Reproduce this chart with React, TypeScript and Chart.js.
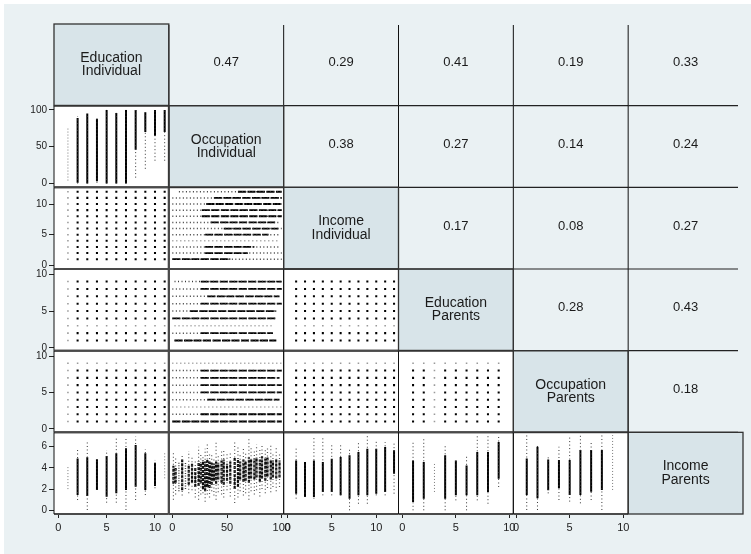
import React, { useEffect, useRef } from "react";
import { Chart, registerables } from "chart.js";

Chart.register(...registerables);

const W = 751;
const H = 554;
const FONT = '"Liberation Sans", Arial, Helvetica, sans-serif';
const BG = "#eaf1f3";
const DIAG_FILL = "#d8e4e9";

// ---- Variables (diagonal labels) ----
const VARIABLE_LABELS: string[][] = [
  ["Education", "Individual"],
  ["Occupation", "Individual"],
  ["Income", "Individual"],
  ["Education", "Parents"],
  ["Occupation", "Parents"],
  ["Income", "Parents"],
];

// ---- Correlations (upper triangle, row by row) ----
const CORR_ROW_1 = [0.47, 0.29, 0.41, 0.19, 0.33];
const CORR_ROW_2 = [0.38, 0.27, 0.14, 0.24];
const CORR_ROW_3 = [0.17, 0.08, 0.27];
const CORR_ROW_4 = [0.28, 0.43];
const CORR_ROW_5 = [0.18];

// ---- Axis ranges ----
const X_MIN = [-0.44, -3.2, -0.4, -0.36, -0.25, -0.35];
const X_MAX = [11.43, 101.8, 12.5, 10.37, 10.45, 7.36];
const Y_MIN = [-0.44, -5.2, -0.6, -0.38, -0.49, -0.35];
const Y_MAX = [11.43, 105.8, 12.72, 10.71, 10.74, 7.36];

// ---- Tick labels ----
const TICKS_EDU_IND = [0, 5, 10];
const TICKS_OCC_IND = [0, 50, 100];
const TICKS_INC_IND = [0, 5, 10];
const TICKS_EDU_PAR = [0, 5, 10];
const TICKS_OCC_PAR = [0, 5, 10];
const TICKS_INC_PAR = [0, 2, 4, 6];
const AXIS_TICKS = [TICKS_EDU_IND, TICKS_OCC_IND, TICKS_INC_IND, TICKS_EDU_PAR, TICKS_OCC_PAR, TICKS_INC_PAR];

// ---- Discrete levels present ----
const EDU_IND_LEVELS = [1, 2, 3, 4, 5, 6, 7, 8, 9, 10, 11];
const INC_IND_LEVELS = [1, 2, 3, 4, 5, 6, 7, 8, 9, 10, 11, 12];
const EDU_PAR_LEVELS = [1, 2, 3, 4, 5, 6, 7, 8, 9];
const OCC_PAR_LEVELS = [1, 2, 3, 4, 5, 6, 7, 8, 9];

// ---- Strips: [position, sparseLow, sparseHigh, denseLow, denseHigh] ----
type Strip = [number, number, number, number | null, number | null];

// Occupation Individual (y) at each Education Individual level (x)
const OCC_IND_BY_EDU_IND: Strip[] = [
  [1, 4, 77, null, null],
  [2, 0, 91, 1, 89],
  [3, 0, 95, 0, 95],
  [4, 1, 90, 3, 88],
  [5, 0, 100, 0, 100],
  [6, 0, 96, 0, 96],
  [7, 0, 100, 0, 100],
  [8, 8, 100, 46, 100],
  [9, 20, 97, 70, 97],
  [10, 31, 100, 65, 100],
  [11, 31, 100, 70, 100],
];

// Occupation Individual (x) spread at each Income Individual level (y)
const INC_IND_BY_OCC_IND: Strip[] = [
  [12, 6, 100, 60, 100],
  [11, 0, 100, 38, 100],
  [10, 0, 100, 31, 100],
  [9, 0, 100, 27, 100],
  [8, 0, 100, 27, 100],
  [7, 0, 97, 35, 94],
  [6, 0, 100, 47, 97],
  [5, 0, 97, 30, 88],
  [4, 0, 97, null, null],
  [3, 0, 97, 30, 75],
  [2, 0, 100, 30, 69],
  [1, 0, 100, 0, 53],
];

// Occupation Individual (x) spread at each Education Parents level (y)
const EDU_PAR_BY_OCC_IND: Strip[] = [
  [9, 2, 100, 26, 100],
  [8, 0, 100, 26, 100],
  [7, 0, 98, 32, 98],
  [6, 0, 100, 26, 100],
  [5, 0, 95, 16, 95],
  [4, 0, 95, 0, 95],
  [3, 2, 92, null, null],
  [2, 0, 92, 26, 92],
  [1, 2, 95, 2, 95],
];

// Occupation Individual (x) spread at each Occupation Parents level (y)
const OCC_PAR_BY_OCC_IND: Strip[] = [
  [9, 0, 100, null, null],
  [8, 0, 100, 26, 100],
  [7, 0, 98, 26, 98],
  [6, 0, 100, 26, 100],
  [5, 0, 100, 26, 100],
  [4, 0, 98, 32, 98],
  [3, 0, 100, null, null],
  [2, 0, 100, 26, 100],
  [1, 0, 100, 0, 100],
];

// Income Parents (y) at each Education Individual level (x)
const INC_PAR_BY_EDU_IND: Strip[] = [
  [1, 2.0, 4.1, null, null],
  [2, 0.97, 5.85, 1.44, 4.9],
  [3, 0.03, 6.47, 1.35, 5.0],
  [4, 1.92, 4.81, 1.92, 4.81],
  [5, 0.72, 5.69, 1.28, 5.12],
  [6, 0.72, 6.79, 1.6, 5.38],
  [7, 0.03, 6.73, 1.92, 5.85],
  [8, 0.97, 6.95, 2.23, 6.16],
  [9, 1.44, 5.78, 1.92, 5.38],
  [10, 2.08, 4.75, 2.3, 4.5],
  [11, 3.02, 5.38, null, null],
];

// Income Parents (y) at Occupation Individual codes (x)
const INC_PAR_BY_OCC_IND: Strip[] = [
  [1, 1.0, 5.5, 2.5, 4.2],
  [3, 1.5, 5.0, 2.6, 4.0],
  [6, 1.8, 4.6, null, null],
  [9, 1.4, 5.3, 1.9, 4.8],
  [12, 2.0, 4.5, null, null],
  [15, 1.6, 5.6, 2.4, 4.3],
  [18, 1.9, 5.0, 2.6, 4.4],
  [21, 1.2, 4.8, 2.2, 4.0],
  [24, 1.0, 6.0, 2.3, 4.6],
  [26, 1.5, 5.4, 2.6, 4.5],
  [28, 1.6, 5.2, 2.0, 4.7],
  [30, 0.8, 5.8, 1.8, 4.6],
  [32, 1.5, 6.2, 2.2, 4.8],
  [34, 1.2, 5.5, 2.1, 4.6],
  [36, 1.8, 5.4, 2.4, 4.5],
  [38, 1.4, 5.0, 2.8, 4.4],
  [40, 1.0, 6.4, 2.5, 4.6],
  [42, 1.7, 5.2, 2.9, 4.5],
  [45, 1.5, 5.6, 2.6, 4.7],
  [47, 1.2, 5.8, 2.4, 4.8],
  [50, 1.9, 5.3, 2.8, 4.4],
  [53, 1.3, 5.5, 2.5, 4.6],
  [57, 0.7, 6.6, 2.0, 5.0],
  [60, 1.2, 6.0, 2.2, 4.9],
  [62, 1.8, 5.4, 2.9, 4.6],
  [65, 1.4, 5.8, 2.7, 4.8],
  [67, 1.6, 5.5, 2.8, 4.6],
  [70, 1.0, 6.7, 2.6, 5.0],
  [72, 1.8, 6.0, 3.0, 4.8],
  [75, 1.5, 5.6, 2.9, 4.9],
  [77, 1.9, 6.2, 3.1, 5.0],
  [80, 1.3, 5.9, 2.7, 4.8],
  [82, 2.0, 6.3, 3.0, 5.1],
  [85, 1.6, 5.8, 2.8, 4.9],
  [87, 2.1, 6.0, 3.2, 5.0],
  [90, 1.7, 6.2, 2.9, 4.8],
  [92, 2.2, 5.5, 3.1, 4.7],
  [95, 1.8, 6.1, 3.0, 4.9],
  [98, 2.2, 5.5, 3.1, 4.7],
];

// Income Parents (y) at each Income Individual level (x)
const INC_PAR_BY_INC_IND: Strip[] = [
  [1, 1.1, 5.97, 1.57, 4.71],
  [2, 1.25, 4.56, 1.25, 4.56],
  [3, 1.1, 6.82, 1.25, 4.71],
  [4, 1.41, 6.9, 1.73, 4.56],
  [5, 1.41, 6.29, 1.73, 4.87],
  [6, 1.41, 6.3, 1.41, 5.03],
  [7, 0.0, 5.81, 1.1, 5.19],
  [8, 0.62, 6.44, 1.41, 5.5],
  [9, 0.62, 7.07, 1.41, 5.81],
  [10, 1.41, 6.6, 1.57, 5.81],
  [11, 1.41, 6.44, 1.73, 5.97],
  [12, 1.57, 6.29, 3.45, 5.66],
];

// Income Parents (y) at each Education Parents level (x)
const INC_PAR_BY_EDU_PAR: Strip[] = [
  [1, 0, 6.44, 0.78, 4.71],
  [2, 0, 6.91, 1.1, 4.56],
  [3, 1.73, 4.56, null, null],
  [4, 0, 6.13, 1.1, 5.19],
  [5, 0.94, 4.87, 1.41, 4.71],
  [6, 0, 5.19, 1.41, 4.24],
  [7, 0.94, 7.07, 1.41, 5.5],
  [8, 0.62, 7.07, 1.73, 5.5],
  [9, 2.2, 7.07, 2.98, 6.44],
];

// Income Parents (y) at each Occupation Parents level (x)
const INC_PAR_BY_OCC_PAR: Strip[] = [
  [1, 0.03, 7.1, 1.44, 4.9],
  [2, 0.03, 6.16, 1.13, 6.0],
  [3, 1.6, 5.13, 1.9, 4.8],
  [4, 0.97, 6.0, 2.08, 4.75],
  [5, 0.82, 6.95, 1.44, 4.75],
  [6, 0.66, 7.1, 1.44, 5.69],
  [7, 0.97, 6.47, 1.76, 5.69],
  [8, 0.03, 7.1, 1.92, 5.69],
  [9, 1.92, 7.1, null, null],
];

type StripPanel = { row: number; col: number; strips: Strip[]; horizontal: boolean; cloud?: boolean };
const STRIP_PANELS: StripPanel[] = [
  { row: 2, col: 1, strips: OCC_IND_BY_EDU_IND, horizontal: false },
  { row: 3, col: 2, strips: INC_IND_BY_OCC_IND, horizontal: true },
  { row: 4, col: 2, strips: EDU_PAR_BY_OCC_IND, horizontal: true },
  { row: 5, col: 2, strips: OCC_PAR_BY_OCC_IND, horizontal: true },
  { row: 6, col: 1, strips: INC_PAR_BY_EDU_IND, horizontal: false },
  { row: 6, col: 2, strips: INC_PAR_BY_OCC_IND, horizontal: false, cloud: true },
  { row: 6, col: 3, strips: INC_PAR_BY_INC_IND, horizontal: false },
  { row: 6, col: 4, strips: INC_PAR_BY_EDU_PAR, horizontal: false },
  { row: 6, col: 5, strips: INC_PAR_BY_OCC_PAR, horizontal: false },
];

type GridPanel = { row: number; col: number; xs: number[]; ys: number[]; lightX: number[]; lightY: number[] };
const GRID_PANELS: GridPanel[] = [
  { row: 3, col: 1, xs: EDU_IND_LEVELS, ys: INC_IND_LEVELS, lightX: [1], lightY: [] },
  { row: 4, col: 1, xs: EDU_IND_LEVELS, ys: EDU_PAR_LEVELS, lightX: [1], lightY: [3] },
  { row: 5, col: 1, xs: EDU_IND_LEVELS, ys: OCC_PAR_LEVELS, lightX: [1], lightY: [9] },
  { row: 4, col: 3, xs: INC_IND_LEVELS, ys: EDU_PAR_LEVELS, lightX: [], lightY: [3] },
  { row: 5, col: 3, xs: INC_IND_LEVELS, ys: OCC_PAR_LEVELS, lightX: [], lightY: [9] },
  { row: 5, col: 4, xs: EDU_PAR_LEVELS, ys: OCC_PAR_LEVELS, lightX: [3], lightY: [9] },
];

function stripPoints(strips: Strip[], horizontal: boolean, which: "dense" | "sparse" | "light") {
  const pts: { x: number; y: number | null }[] = [];
  for (const s of strips) {
    const [p, sLo, sHi, dLo, dHi] = s;
    let lo: number;
    let hi: number;
    if (which === "dense") {
      if (dLo == null || dHi == null) continue;
      lo = dLo;
      hi = dHi;
    } else if (which === "sparse") {
      if (dLo == null) continue;
      lo = sLo;
      hi = sHi;
    } else {
      if (dLo != null) continue;
      lo = sLo;
      hi = sHi;
    }
    if (horizontal) {
      pts.push({ x: lo, y: p }, { x: hi, y: p }, { x: hi, y: null });
    } else {
      pts.push({ x: p, y: lo }, { x: p, y: hi }, { x: p, y: null });
    }
  }
  return pts;
}

function buildDatasets() {
  const ds: any[] = [];
  for (const panel of STRIP_PANELS) {
    const axes = { xAxisID: "x" + panel.col, yAxisID: "y" + panel.row };
    const base = { type: "line", pointRadius: 0, spanGaps: false, tension: 0, fill: false, ...axes };
    if (panel.horizontal) {
      ds.push({ ...base, data: stripPoints(panel.strips, true, "sparse"), borderColor: "#3a3a3a", borderWidth: 1.5, borderDash: [1, 2.5] });
      ds.push({ ...base, data: stripPoints(panel.strips, true, "light"), borderColor: "#8a8a8a", borderWidth: 1.5, borderDash: [1, 3] });
      ds.push({ ...base, data: stripPoints(panel.strips, true, "dense"), borderColor: "#000000", borderWidth: 1.8, borderDash: [8, 1.5] });
    } else if (panel.cloud) {
      ds.push({ ...base, data: stripPoints(panel.strips, false, "sparse"), borderColor: "#555555", borderWidth: 1.2, borderDash: [1, 2.5] });
      ds.push({ ...base, data: stripPoints(panel.strips, false, "light"), borderColor: "#444444", borderWidth: 1.4, borderDash: [1, 1.5] });
      ds.push({ ...base, data: stripPoints(panel.strips, false, "dense"), borderColor: "#0d0d0d", borderWidth: 2.2, borderDash: [3, 1] });
    } else {
      ds.push({ ...base, data: stripPoints(panel.strips, false, "sparse"), borderColor: "#333333", borderWidth: 1, borderDash: [1, 2.5] });
      ds.push({ ...base, data: stripPoints(panel.strips, false, "light"), borderColor: "#7a7a7a", borderWidth: 1, borderDash: [1, 2] });
      ds.push({ ...base, data: stripPoints(panel.strips, false, "dense"), borderColor: "#000000", borderWidth: 2 });
    }
  }
  for (const g of GRID_PANELS) {
    const strong: { x: number; y: number }[] = [];
    const light: { x: number; y: number }[] = [];
    for (const y of g.ys) {
      for (const x of g.xs) {
        if (g.lightX.includes(x) || g.lightY.includes(y)) light.push({ x, y });
        else strong.push({ x, y });
      }
    }
    const axes = { xAxisID: "x" + g.col, yAxisID: "y" + g.row };
    ds.push({ type: "scatter", data: strong, pointStyle: "rect", pointRadius: 1.45, pointBorderWidth: 0, backgroundColor: "#000000", ...axes });
    ds.push({ type: "scatter", data: light, pointStyle: "rect", pointRadius: 1.1, pointBorderWidth: 0, backgroundColor: "#9a9a9a", ...axes });
  }
  return ds;
}

function buildScales() {
  const scales: any = {};
  for (let c = 1; c <= 6; c++) {
    const shown = c < 6;
    scales["x" + c] = {
      type: "linear",
      position: "bottom",
      stack: "xstack",
      stackWeight: 1,
      weight: c,
      min: X_MIN[c - 1],
      max: X_MAX[c - 1],
      bounds: "data",
      grid: { display: shown, drawOnChartArea: false, drawTicks: true, tickLength: 4, color: "#222", lineWidth: 1 },
      border: { display: false },
      ticks: { display: shown, autoSkip: false, maxRotation: 0, minRotation: 0, padding: 3, color: "#222", font: { family: FONT, size: 11 } },
      afterBuildTicks: (s: any) => {
        s.ticks = AXIS_TICKS[c - 1].map((v) => ({ value: v }));
      },
      afterFit: (s: any) => {
        s.height = 30;
        s.paddingLeft = 0;
        s.paddingRight = 0;
        s.paddingTop = 0;
        s.paddingBottom = 0;
      },
    };
  }
  for (let r = 1; r <= 6; r++) {
    const shown = r > 1;
    scales["y" + r] = {
      type: "linear",
      position: "left",
      stack: "ystack",
      stackWeight: 1,
      weight: 7 - r,
      min: Y_MIN[r - 1],
      max: Y_MAX[r - 1],
      bounds: "data",
      grid: { display: shown, drawOnChartArea: false, drawTicks: true, tickLength: 5, color: "#222", lineWidth: 1 },
      border: { display: false },
      ticks: { display: shown, autoSkip: false, padding: 2, color: "#222", font: { family: FONT, size: 10 } },
      afterBuildTicks: (s: any) => {
        s.ticks = AXIS_TICKS[r - 1].map((v) => ({ value: v }));
      },
      afterFit: (s: any) => {
        s.width = 40;
        s.paddingLeft = 0;
        s.paddingRight = 0;
        s.paddingTop = 0;
        s.paddingBottom = 0;
      },
    };
  }
  return scales;
}

const CORR_ROWS = [CORR_ROW_1, CORR_ROW_2, CORR_ROW_3, CORR_ROW_4, CORR_ROW_5];

const matrixPlugin = {
  id: "matrixDecor",
  beforeDraw(chart: any) {
    const ctx = chart.ctx;
    ctx.save();
    ctx.fillStyle = "#ffffff";
    ctx.fillRect(0, 0, W, H);
    ctx.fillStyle = BG;
    ctx.fillRect(4, 4, W - 4, H - 4);
    for (let r = 1; r <= 6; r++) {
      for (let c = 1; c <= 6; c++) {
        const xs = chart.scales["x" + c];
        const ys = chart.scales["y" + r];
        if (r > c) {
          ctx.fillStyle = "#ffffff";
          ctx.fillRect(xs.left, ys.top, xs.right - xs.left, ys.bottom - ys.top);
        } else if (r === c) {
          ctx.fillStyle = DIAG_FILL;
          ctx.fillRect(xs.left, ys.top, xs.right - xs.left, ys.bottom - ys.top);
        }
      }
    }
    ctx.restore();
  },
  afterDatasetsDraw(chart: any) {
    const ctx = chart.ctx;
    ctx.save();
    const line = (x1: number, y1: number, x2: number, y2: number, w: number, col: string) => {
      ctx.beginPath();
      ctx.lineWidth = w;
      ctx.strokeStyle = col;
      ctx.moveTo(x1, y1);
      ctx.lineTo(x2, y2);
      ctx.stroke();
    };
    // upper triangle separators
    for (let r = 1; r <= 5; r++) {
      for (let c = r + 1; c <= 6; c++) {
        const xs = chart.scales["x" + c];
        const ys = chart.scales["y" + r];
        line(xs.left, ys.top + (r === 1 ? 1 : 0), xs.left, ys.bottom, 1, "#111");
        line(xs.left, ys.bottom, c === 6 ? xs.right - 5 : xs.right, ys.bottom, 1.2, "#222");
      }
    }
    // lower triangle panel borders
    for (let r = 2; r <= 6; r++) {
      for (let c = 1; c < r; c++) {
        const xs = chart.scales["x" + c];
        const ys = chart.scales["y" + r];
        line(xs.left, ys.top, xs.right, ys.top, 2, "#4a4a4a");
        line(xs.left, ys.bottom, xs.right, ys.bottom, 2, "#4a4a4a");
        line(xs.left, ys.top, xs.left, ys.bottom, c === 2 ? 2 : 1, c === 2 ? "#4a4a4a" : "#111");
        line(xs.right, ys.top, xs.right, ys.bottom, c === 1 ? 2 : 1, c === 1 ? "#4a4a4a" : "#111");
      }
    }
    // diagonal borders
    for (let i = 1; i <= 6; i++) {
      const xs = chart.scales["x" + i];
      const ys = chart.scales["y" + i];
      ctx.lineWidth = 1.3;
      ctx.strokeStyle = "#333";
      ctx.strokeRect(xs.left, ys.top, xs.right - xs.left, ys.bottom - ys.top);
    }
    ctx.restore();
  },
  afterDraw(chart: any) {
    const ctx = chart.ctx;
    ctx.save();
    ctx.fillStyle = "#1b1b1b";
    ctx.textAlign = "center";
    ctx.textBaseline = "middle";
    ctx.font = `14px ${FONT}`;
    for (let i = 1; i <= 6; i++) {
      const xs = chart.scales["x" + i];
      const ys = chart.scales["y" + i];
      const cx = (xs.left + xs.right) / 2;
      const cy = (ys.top + ys.bottom) / 2;
      const [a, b] = VARIABLE_LABELS[i - 1];
      ctx.fillText(a, cx, cy - 6.8);
      ctx.fillText(b, cx, cy + 6.8);
    }
    ctx.font = `13px ${FONT}`;
    CORR_ROWS.forEach((vals, ri) => {
      const r = ri + 1;
      vals.forEach((v, k) => {
        const c = r + 1 + k;
        const xs = chart.scales["x" + c];
        const ys = chart.scales["y" + r];
        ctx.fillText(v.toFixed(2), (xs.left + xs.right) / 2, (ys.top + ys.bottom) / 2 - 2);
      });
    });
    ctx.restore();
  },
};

export default function App() {
  const ref = useRef<HTMLCanvasElement | null>(null);
  useEffect(() => {
    if (!ref.current) return;
    const chart = new Chart(ref.current, {
      type: "scatter",
      data: { datasets: buildDatasets() },
      options: {
        responsive: false,
        animation: false,
        events: [],
        layout: { padding: { left: 14, top: 24, right: 8, bottom: 10 } },
        plugins: { legend: { display: false }, tooltip: { enabled: false }, title: { display: false } },
        scales: buildScales(),
      } as any,
      plugins: [matrixPlugin],
    } as any);
    return () => chart.destroy();
  }, []);
  return (
    <div style={{ position: "absolute", left: 0, top: 0, width: W, height: H }}>
      <canvas ref={ref} width={W} height={H} style={{ display: "block", width: W, height: H }} />
    </div>
  );
}
